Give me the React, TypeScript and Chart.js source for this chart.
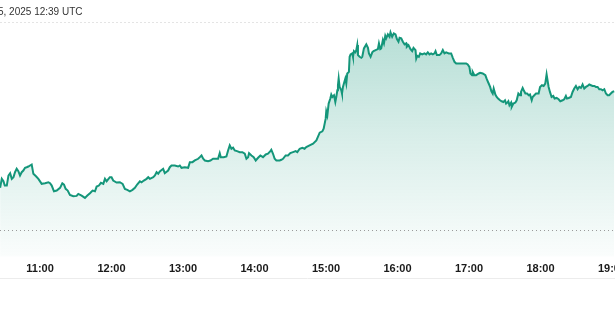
import React, { useEffect, useRef } from "react";
import { Chart, registerables } from "chart.js";

Chart.register(...registerables);

// Time of each sample, minutes since midnight (UTC)
const TIMES: number[] = [
  626.5, 627.9, 629.3, 630.4, 632.1, 633.5, 634.9, 636.3, 637.7, 639.0,
  640.4, 641.8, 643.2, 644.6, 646.0, 647.4, 648.8, 650.2, 651.6, 653.0,
  654.4, 656.6, 658.6, 661.4, 664.2, 667.0, 668.4, 669.8, 671.7, 674.0,
  676.8, 678.7, 680.1, 681.5, 683.2, 685.1, 687.9, 690.7, 692.1, 694.9,
  697.7, 699.7, 701.9, 704.1, 706.1, 707.5, 709.4, 711.1, 713.1, 714.5,
  715.9, 718.6, 720.0, 721.4, 724.2, 727.0, 729.3, 731.2, 733.2, 735.4,
  737.6, 739.6, 741.5, 743.8, 745.2, 747.1, 749.4, 750.8, 752.2, 755.0,
  756.4, 757.8, 759.2, 760.5, 763.3, 764.7, 767.5, 768.9, 770.3, 773.1,
  775.9, 777.3, 778.7, 781.5, 784.3, 785.7, 787.9, 789.9, 792.7, 794.1,
  795.5, 796.9, 798.3, 801.0, 803.0, 805.2, 808.0, 809.4, 810.8, 811.7,
  814.2, 816.4, 817.8, 819.2, 820.6, 822.0, 823.4, 825.3, 827.6, 829.8,
  831.8, 833.2, 834.6, 835.4, 837.4, 839.3, 841.0, 843.0, 844.9, 847.1,
  849.4, 851.3, 853.3, 854.1, 855.5, 856.9, 858.3, 861.1, 862.5, 863.9,
  866.1, 868.1, 870.0, 872.3, 874.5, 875.9, 877.9, 880.1, 882.0, 883.4,
  886.2, 889.1, 891.9, 894.7, 896.9, 898.0, 899.7, 900.2, 901.1, 902.2,
  903.6, 904.4, 905.3, 906.7, 907.8, 908.6, 909.5, 910.0, 910.6, 911.4,
  912.8, 913.4, 914.2, 915.0, 916.2, 917.0, 917.8, 919.2, 919.8, 920.6,
  922.0, 922.6, 923.4, 924.5, 925.4, 926.2, 926.8, 928.2, 929.6, 930.4,
  931.8, 933.8, 935.2, 936.0, 937.4, 938.8, 939.9, 941.6, 943.5, 944.4,
  945.5, 946.3, 947.7, 948.6, 949.7, 950.5, 951.9, 953.3, 954.1, 955.5,
  956.9, 958.3, 959.5, 960.8, 961.7, 963.1, 964.5, 965.9, 967.3, 967.8,
  969.2, 970.9, 972.3, 973.4, 975.1, 975.7, 976.5, 977.9, 979.0, 980.7,
  982.6, 984.0, 985.4, 986.8, 988.2, 989.6, 991.0, 991.9, 993.0, 995.2,
  996.6, 998.0, 999.4, 1000.8, 1003.0, 1005.0, 1006.4, 1007.8, 1009.2, 1012.0,
  1014.8, 1017.6, 1018.9, 1020.3, 1021.2, 1022.6, 1023.1, 1024.5, 1025.9, 1028.2,
  1029.3, 1031.5, 1033.7, 1034.9, 1036.5, 1037.7, 1038.8, 1039.9, 1040.7, 1042.1,
  1043.2, 1044.4, 1046.0, 1047.4, 1048.8, 1050.2, 1051.1, 1052.2, 1053.0, 1053.9,
  1055.3, 1055.8, 1057.2, 1058.9, 1060.0, 1061.4, 1062.8, 1063.6, 1065.0, 1065.9,
  1067.3, 1068.7, 1070.1, 1071.2, 1072.6, 1073.4, 1074.8, 1076.2, 1078.4, 1079.6,
  1081.2, 1082.6, 1084.0, 1085.1, 1086.0, 1086.8, 1087.9, 1089.3, 1090.7, 1091.8,
  1093.5, 1095.2, 1096.6, 1098.5, 1099.9, 1101.3, 1102.2, 1103.6, 1105.5, 1106.9,
  1108.3, 1109.7, 1111.1, 1112.5, 1113.9, 1115.3, 1116.7, 1118.1, 1119.5, 1120.9,
  1122.3, 1123.7, 1125.1, 1126.5, 1127.9, 1129.3, 1130.7, 1132.1, 1133.5, 1134.9,
  1136.3, 1137.6, 1139.0, 1140.4, 1141.8,
];

// Price at each sample
const PRICES: number[] = [
  106.87, 107.77, 107.53, 107.1, 107.1, 108.1, 108.33, 107.77, 107.93, 108.43,
  108.77, 108.53, 108.1, 108.43, 108.6, 108.87, 108.93, 109.0, 109.1, 109.2,
  108.27, 108.03, 107.77, 107.27, 107.33, 107.43, 107.33, 107.1, 106.53, 106.6,
  106.87, 107.33, 107.2, 106.77, 106.6, 106.17, 106.03, 106.07, 106.27, 106.1,
  105.87, 106.1, 106.33, 106.6, 106.53, 107.0, 107.1, 107.37, 107.27, 107.77,
  107.53, 107.93, 107.93, 107.6, 107.4, 107.43, 107.27, 106.77, 106.67, 106.53,
  106.67, 106.87, 107.2, 107.53, 107.43, 107.6, 107.77, 107.93, 107.77, 107.93,
  108.1, 108.43, 108.27, 108.5, 108.77, 108.33, 108.6, 108.93, 109.1, 109.1,
  109.0, 109.1, 108.87, 108.93, 108.87, 109.43, 109.43, 109.6, 109.77, 109.93,
  110.1, 109.77, 109.6, 109.53, 109.6, 109.77, 109.77, 109.77, 110.33, 109.93,
  109.93, 110.0, 110.6, 111.1, 110.77, 110.87, 110.6, 110.53, 110.43, 110.43,
  110.27, 109.77, 109.93, 110.33, 110.1, 109.93, 109.6, 109.87, 110.1, 109.93,
  110.2, 110.27, 110.53, 110.67, 110.27, 109.77, 109.6, 109.6, 109.67, 109.77,
  110.1, 110.1, 110.33, 110.43, 110.53, 110.43, 110.77, 110.87, 110.77, 110.93,
  111.1, 111.27, 111.6, 112.37, 112.5, 112.77, 113.77, 114.5, 114.1, 115.27,
  115.77, 116.17, 115.93, 116.1, 115.43, 115.93, 116.6, 117.1, 117.77, 116.93,
  116.6, 116.27, 116.93, 117.27, 117.77, 117.27, 118.27, 118.43, 119.93, 120.17,
  120.27, 119.93, 120.5, 120.37, 120.6, 121.1, 120.1, 119.93, 119.83, 119.93,
  120.77, 121.17, 120.83, 120.27, 119.93, 120.37, 120.5, 120.6, 120.7, 121.27,
  120.7, 120.77, 121.6, 121.27, 122.03, 121.77, 122.17, 121.93, 122.37, 121.93,
  122.27, 122.17, 121.7, 121.43, 121.83, 121.77, 121.43, 121.17, 121.27, 120.93,
  121.1, 120.7, 120.5, 120.83, 120.6, 119.77, 120.03, 119.93, 120.27, 120.17,
  120.27, 120.17, 120.37, 120.17, 120.27, 120.17, 120.27, 120.5, 120.1, 120.1,
  120.27, 120.6, 120.27, 120.37, 120.27, 120.27, 119.83, 119.43, 119.27, 119.27,
  119.27, 119.27, 119.17, 118.93, 118.27, 118.1, 118.43, 118.1, 118.1, 118.27,
  118.33, 118.27, 118.1, 117.7, 117.27, 116.93, 116.5, 116.27, 116.77, 116.17,
  115.93, 115.77, 115.6, 115.5, 115.43, 115.6, 115.27, 115.37, 115.5, 115.1,
  115.37, 114.93, 115.27, 115.37, 115.6, 116.27, 116.1, 116.43, 116.83, 116.6,
  116.27, 116.27, 116.1, 116.17, 115.6, 115.93, 116.1, 116.27, 116.27, 116.93,
  117.1, 117.03, 117.27, 118.17, 117.5, 116.93, 116.43, 115.93, 116.03, 115.77,
  115.83, 115.7, 115.5, 115.6, 115.7, 116.03, 115.77, 115.83, 115.93, 116.43,
  116.77, 117.03, 116.7, 116.93, 116.83, 117.17, 116.77, 116.93, 117.03, 117.17,
  117.1, 117.03, 117.03, 116.93, 116.93, 116.7, 116.7, 116.6, 116.7, 116.27,
  116.1, 116.1, 116.27, 116.43, 116.5,
];

const TICK_MINUTES: number[] = [660, 720, 780, 840, 900, 960, 1020, 1080, 1140];
const TICK_LABELS: string[] = ["11:00", "12:00", "13:00", "14:00", "15:00", "16:00", "17:00", "18:00", "19:00"];
const REFERENCE_PRICE = 102.7;
const HEADER_TEXT = "5, 2025 12:39 UTC";

const X_MIN = 626.4;
const X_MAX = 1142.5;
const Y_MIN = 100;
const Y_MAX = 123.4;

const LINE_COLOR = "#14967a";

const decorPlugin = {
  id: "decor",
  beforeDatasetsDraw(chart: any) {
    const { ctx, chartArea, scales } = chart;
    ctx.save();
    // top faint dotted line
    ctx.strokeStyle = "#e4e4e4";
    ctx.lineWidth = 1;
    ctx.setLineDash([2, 2]);
    ctx.beginPath();
    ctx.moveTo(0, Math.round(chartArea.top) + 0.5);
    ctx.lineTo(chart.width, Math.round(chartArea.top) + 0.5);
    ctx.stroke();
    // bottom faint solid line
    ctx.setLineDash([]);
    ctx.strokeStyle = "#ececec";
    const by = Math.round(scales.x.bottom) - 3.5;
    ctx.beginPath();
    ctx.moveTo(0, by);
    ctx.lineTo(chart.width, by);
    ctx.stroke();
    ctx.restore();
  },
  afterDatasetsDraw(chart: any) {
    const { ctx, scales } = chart;
    const y = Math.round(scales.y.getPixelForValue(REFERENCE_PRICE)) + 0.5;
    ctx.save();
    ctx.strokeStyle = "#9a9a9a";
    ctx.lineWidth = 1;
    ctx.setLineDash([1, 3]);
    ctx.beginPath();
    ctx.moveTo(0, y);
    ctx.lineTo(chart.width, y);
    ctx.stroke();
    ctx.restore();
  },
};

export default function App() {
  const canvasRef = useRef<HTMLCanvasElement | null>(null);

  useEffect(() => {
    const canvas = canvasRef.current;
    if (!canvas) return;
    const chart = new Chart(canvas, {
      type: "line",
      data: {
        datasets: [
          {
            data: TIMES.map((t, i) => ({ x: t, y: PRICES[i] })),
            borderColor: LINE_COLOR,
            borderWidth: 2,
            pointRadius: 0,
            tension: 0,
            fill: "start",
            backgroundColor: (ctx: any) => {
              const area = ctx.chart.chartArea;
              if (!area) return "rgba(20,150,122,0.2)";
              const g = ctx.chart.ctx.createLinearGradient(0, area.top, 0, area.bottom);
              g.addColorStop(0, "rgba(20,150,122,0.32)");
              g.addColorStop(0.5, "rgba(20,150,122,0.16)");
              g.addColorStop(1, "rgba(20,150,122,0.02)");
              return g;
            },
          },
        ],
      },
      options: {
        animation: false,
        responsive: true,
        maintainAspectRatio: false,
        layout: { padding: { top: 22, bottom: 46, left: 0, right: 0 } },
        plugins: { legend: { display: false }, tooltip: { enabled: false } },
        scales: {
          x: {
            type: "linear",
            min: X_MIN,
            max: X_MAX,
            grid: { display: false, drawTicks: false },
            border: { display: false },
            afterBuildTicks: (scale: any) => {
              scale.ticks = TICK_MINUTES.map((v) => ({ value: v }));
            },
            afterFit: (scale: any) => {
              scale.paddingLeft = 0;
              scale.paddingRight = 0;
            },
            ticks: {
              autoSkip: false,
              maxRotation: 0,
              padding: 6,
              color: "#1a1a1a",
              font: { family: "'Liberation Sans', Arial, sans-serif", size: 11, weight: "bold" },
              callback: (value: any) => {
                const idx = TICK_MINUTES.indexOf(Number(value));
                return idx >= 0 ? TICK_LABELS[idx] : "";
              },
            },
          },
          y: {
            display: false,
            min: Y_MIN,
            max: Y_MAX,
            afterFit: (scale: any) => {
              scale.paddingTop = 0;
              scale.paddingBottom = 0;
            },
          },
        },
      },
      plugins: [decorPlugin],
    } as any);
    return () => chart.destroy();
  }, []);

  return (
    <div style={{ position: "fixed", left: 0, top: 0, width: 615, height: 328, background: "#fff", overflow: "hidden" }}>
      <div
        style={{
          position: "absolute",
          left: -2,
          top: 5,
          fontFamily: "'Liberation Sans', Arial, sans-serif",
          fontSize: 10,
          color: "#333",
          whiteSpace: "nowrap",
          lineHeight: "14px",
          zIndex: 1,
        }}
      >
        {HEADER_TEXT}
      </div>
      <canvas ref={canvasRef} width={615} height={328} />
    </div>
  );
}
